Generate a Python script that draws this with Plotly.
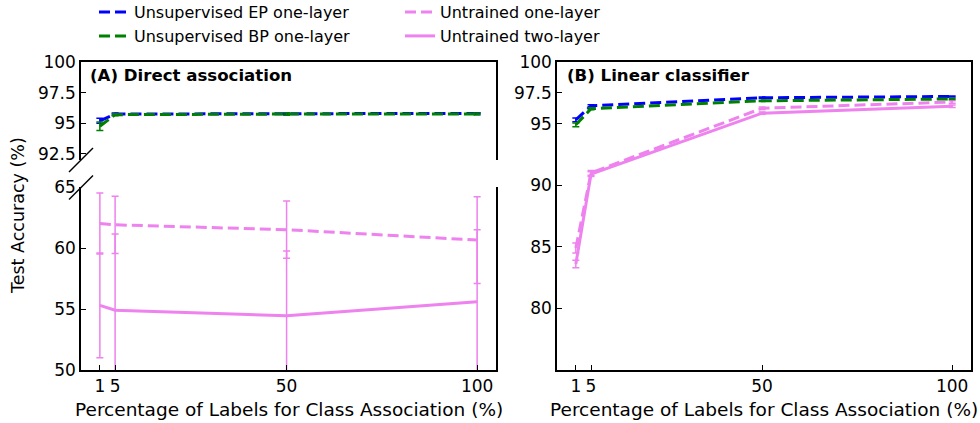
import plotly.graph_objects as go

# ---------------- data ----------------
x_pct = [1, 5, 50, 100]

# (A) Direct association
ep_direct = [95.2, 95.75, 95.78, 95.8]
ep_direct_err = [0.2, 0.08, 0.05, 0.05]
bp_direct = [94.75, 95.7, 95.75, 95.75]
bp_direct_err = [0.35, 0.08, 0.1, 0.08]
un1_direct = [62.0, 61.9, 61.5, 60.65]
un1_direct_err = [2.5, 2.35, 2.35, 3.55]
un2_direct = [55.3, 54.9, 54.45, 55.6]
un2_direct_err = [4.3, 6.25, 5.3, 5.9]

# (B) Linear classifier
ep_lin = [95.3, 96.45, 97.1, 97.2]
ep_lin_err = [0.15, 0.08, 0.05, 0.05]
bp_lin = [94.9, 96.2, 96.85, 97.0]
bp_lin_err = [0.15, 0.08, 0.05, 0.05]
un1_lin = [84.9, 91.0, 96.25, 96.75]
un1_lin_err = [0.4, 0.2, 0.1, 0.1]
un2_lin = [83.6, 90.9, 95.85, 96.4]
un2_lin_err = [0.3, 0.2, 0.1, 0.1]

x_ticks = [1, 5, 50, 100]
y_top_ticks = [92.5, 95, 97.5, 100]
y_top_text = ["92.5", "95", "97.5", "100"]
y_bot_ticks = [50, 55, 60, 65]
y_right_ticks = [80, 85, 90, 95, 97.5, 100]
y_right_text = ["80", "85", "90", "95", "97.5", "100"]

names = ["Unsupervised EP one-layer", "Unsupervised BP one-layer",
         "Untrained one-layer", "Untrained two-layer"]
colors = ["#0000FF", "#008000", "#EE82EE", "#EE82EE"]
dashes = ["11px,5px", "11px,5px", "11px,5px", "solid"]
legend_ids = ["legend", "legend3", "legend2", "legend4"]

W, H = 980, 423
FONT = "DejaVu Sans"


def px(xp):
    return xp / W


def py(yp):
    return 1 - yp / H


fig = go.Figure()


def add(xa, ya, y, err, i, show):
    fig.add_trace(go.Scatter(
        x=x_pct, y=y, mode="lines", name=names[i],
        line=dict(color=colors[i], width=3, dash=dashes[i]),
        error_y=dict(type="data", array=err, visible=True,
                     color=colors[i], thickness=1.5, width=3.5),
        xaxis=xa, yaxis=ya, showlegend=show, legend=legend_ids[i]))


# left panel: top section (trained), bottom section (untrained)
add("x3", "y3", ep_direct, ep_direct_err, 0, True)
add("x3", "y3", bp_direct, bp_direct_err, 1, True)
add("x", "y", un1_direct, un1_direct_err, 2, True)
add("x", "y", un2_direct, un2_direct_err, 3, True)
# right panel
add("x2", "y2", un1_lin, un1_lin_err, 2, False)
add("x2", "y2", un2_lin, un2_lin_err, 3, False)
add("x2", "y2", ep_lin, ep_lin_err, 0, False)
add("x2", "y2", bp_lin, bp_lin_err, 1, False)

tickfont = dict(family=FONT, size=17, color="black")
common_x = dict(range=[-3.95, 104.95], tickmode="array", tickvals=x_ticks,
                ticks="inside", ticklen=5, tickwidth=1, tickcolor="black",
                showline=True, linecolor="black", linewidth=1.5, automargin=False,
                showgrid=False, zeroline=False, tickfont=tickfont)
common_y = dict(ticks="inside", ticklen=5, tickwidth=1, tickcolor="black",
                showline=True, linecolor="black", linewidth=1.5, mirror=True,
                automargin=False,
                showgrid=False, zeroline=False, tickfont=tickfont, tickmode="array")

top_dom = [py(160), py(62)]
bot_dom = [py(370), py(187)]
full_dom = [py(370), py(62)]
left_dom = [px(81), px(496)]
right_dom = [px(557), px(971)]

fig.update_layout(
    width=W, height=H,
    margin=dict(l=0, r=0, t=0, b=0, pad=0, autoexpand=False),
    paper_bgcolor="white", plot_bgcolor="white",
    font=dict(family=FONT, color="black"),
    xaxis=dict(domain=left_dom, anchor="y", **common_x),
    yaxis=dict(domain=bot_dom, anchor="x", range=[50, 65],
               tickvals=y_bot_ticks, **common_y),
    xaxis3=dict(domain=left_dom, anchor="y3", side="top", range=[-3.95, 104.95],
                showline=True, linecolor="black", linewidth=1.5, ticks="",
                automargin=False,
                showticklabels=False, showgrid=False, zeroline=False),
    yaxis3=dict(domain=top_dom, anchor="x3", range=[92, 100],
                tickvals=y_top_ticks, ticktext=y_top_text, **common_y),
    xaxis2=dict(domain=right_dom, anchor="y2", mirror=True, **common_x),
    yaxis2=dict(domain=full_dom, anchor="x2", range=[75, 100],
                tickvals=y_right_ticks, ticktext=y_right_text, **common_y),
)

legfont = dict(family=FONT, size=16, color="black")
leg_pos = {"legend": (px(94), py(12)), "legend3": (px(94), py(36)),
           "legend2": (px(400), py(12)), "legend4": (px(400), py(36))}
for k, (lx, ly) in leg_pos.items():
    fig.update_layout({k: dict(x=lx, y=ly, xanchor="left", yanchor="middle",
                               font=legfont, bgcolor="rgba(0,0,0,0)",
                               borderwidth=0, itemwidth=30)})

ann = [
    dict(text="<b>(A) Direct association</b>", x=px(88), y=py(75),
         xanchor="left", yanchor="middle", font=dict(family=FONT, size=16.6)),
    dict(text="<b>(B) Linear classifier</b>", x=px(565), y=py(75),
         xanchor="left", yanchor="middle", font=dict(family=FONT, size=16.6)),
    dict(text="Percentage of Labels for Class Association (%)", x=px(288.5), y=py(409),
         xanchor="center", yanchor="middle", font=dict(family=FONT, size=18.5)),
    dict(text="Percentage of Labels for Class Association (%)", x=px(764), y=py(409),
         xanchor="center", yanchor="middle", font=dict(family=FONT, size=18.5)),
    dict(text="Test Accuracy (%)", x=px(18), y=py(216), textangle=-90,
         xanchor="center", yanchor="middle", font=dict(family=FONT, size=17.5)),
]
for a in ann:
    a.update(xref="paper", yref="paper", showarrow=False)
fig.update_layout(annotations=ann)

# axis-break marks on the left spine
for yc in (160, 187.5):
    fig.add_shape(type="line", xref="paper", yref="paper",
                  x0=px(69), y0=py(yc + 12), x1=px(93), y1=py(yc - 12),
                  line=dict(color="black", width=1.5))

fig.write_html("out.html",
               config={"displayModeBar": False},
               post_script="document.body.style.margin='0';"
                           "document.body.style.overflow='hidden';")
